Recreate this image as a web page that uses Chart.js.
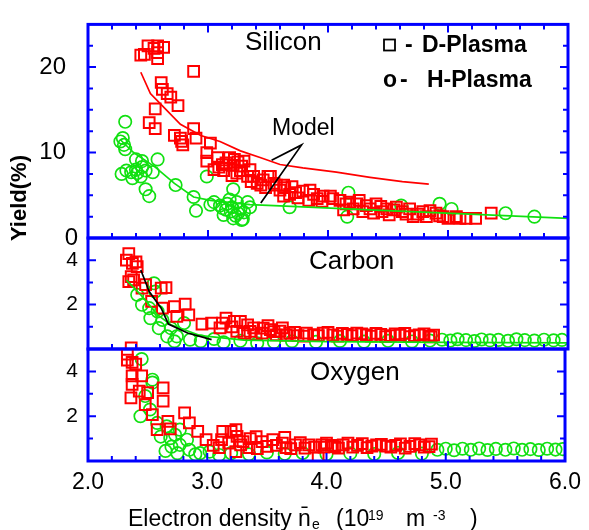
<!DOCTYPE html>
<html>
<head>
<meta charset="utf-8">
<script src="https://cdn.jsdelivr.net/npm/chart.js@4.4.1/dist/chart.umd.min.js"></script>
<style>
  body { margin: 0; background: #fff; }
  #wrap { position: relative; width: 589px; height: 530px; }
  canvas { position: absolute; left: 0; top: 0; }
</style>
</head>
<body>
<div id="wrap">
  <canvas id="si" width="589" height="530"></canvas>
  <canvas id="ca" width="589" height="530"></canvas>
  <canvas id="ox" width="589" height="530"></canvas>
</div>
<script>
// axis ticks
const xMajor = [2, 3, 4, 5, 6]
const xMinor = [2.2, 2.4, 2.6, 2.8, 3.2, 3.4, 3.6, 3.8, 4.2, 4.4, 4.6, 4.8, 5.2, 5.4, 5.6, 5.8]
const siMajor = [0, 10, 20]
const siMinor = [2.5, 5, 7.5, 12.5, 15, 17.5, 22.5]
const smallMajor = [2, 4]
const smallMinor = [1, 3]

// Silicon
const siD = [[2.44,21.4],[2.50,22.5],[2.58,22.5],[2.63,22.3],[2.58,21.7],[2.58,21.0],[2.47,21.5],[2.55,22.2],
  [2.88,19.5],[2.61,18.2],[2.62,17.4],[2.66,16.9],[2.69,16.5],[2.75,15.5],[2.56,15.1],[2.51,13.5],[2.56,12.8],
  [2.72,12.0],[2.77,11.7],[2.79,10.9],[2.78,11.3],[2.88,12.8],[2.90,11.7],[3.02,11.1],[2.99,10.0],[2.99,9.0],
  [3.08,9.4],[3.09,8.3],[3.13,7.9],[3.18,9.4],[3.21,8.5],[3.24,7.6],[3.30,9.0],[3.27,7.9],[3.33,7.2],[3.38,7.2],
  [3.15,8.8],[3.22,9.2],[3.28,8.4],[3.12,8.6],[3.25,8.9],[3.35,8.0],[3.05,8.0],[3.20,7.3],[3.36,6.6],
  [3.41,6.4],[3.46,6.8],[3.50,7.2],[3.48,5.9],[3.55,6.4],[3.63,6.2],[3.68,5.1],[3.44,6.2],[3.52,7.2],[3.57,6.2],
  [3.64,5.9],[3.63,4.9],[3.73,5.3],[3.79,5.5],[3.88,5.1],[3.91,4.6],[3.96,4.9],[4.04,4.6],[4.10,4.4],[4.13,3.3],
  [4.18,4.2],[4.24,4.0],[4.21,3.4],[4.32,3.8],[4.29,3.1],[4.40,4.0],[4.38,2.9],[4.49,3.4],[4.51,2.7],[4.57,3.6],
  [4.62,3.1],[4.68,3.4],[4.71,2.5],[4.79,3.1],[4.82,2.5],[4.90,2.9],[4.96,2.5],[5.07,2.5],[5.15,2.3],[5.23,2.3],
  [5.36,2.9],[3.60,5.6],[3.70,6.0],[3.85,5.6],[3.95,4.3],[4.02,4.9],[4.15,4.0],[4.26,4.4],[4.35,3.4],[4.45,3.1],
  [4.55,3.3],[4.65,2.8],[4.75,2.8],[4.85,3.2],[4.93,2.6],[5.00,2.3],[5.10,2.3],[4.44,3.7],[3.75,4.7],[3.84,4.4]]
const siH = [[2.31,13.6],[2.27,11.3],[2.30,10.9],[2.29,11.7],[2.31,10.4],[2.40,9.2],[2.45,9.0],[2.58,9.2],
  [2.32,7.9],[2.36,7.7],[2.41,7.6],[2.48,7.9],[2.54,7.7],[2.44,7.2],[2.37,7.0],[2.40,8.0],[2.45,8.3],[2.28,7.5],
  [2.48,5.7],[2.51,4.9],[2.73,6.2],[2.99,7.2],[2.88,4.8],[2.90,3.2],[3.05,4.2],[3.10,3.8],[3.16,4.0],[3.21,5.7],
  [3.19,3.1],[3.24,4.2],[3.27,3.4],[3.21,2.3],[3.28,2.1],[3.13,2.7],[3.33,4.2],[3.29,2.2],[3.15,3.3],[3.20,3.6],
  [3.25,2.9],[3.18,4.5],[3.30,3.0],[3.23,2.6],[3.12,3.5],[3.35,3.6],[3.02,3.9],
  [3.68,3.6],[4.17,5.3],[4.16,2.5],[4.61,3.8],[4.93,4.0],[5.03,3.4],[5.48,2.9],[5.72,2.5]]
const siModelD = [[2.44,19.4],[2.52,16.9],[2.61,15.6],[2.77,13.3],[2.94,12.0],[3.10,11.3],[3.27,10.2],
  [3.44,9.4],[3.60,8.6],[3.79,8.2],[4.07,7.7],[4.35,7.1],[4.62,6.6],[4.84,6.3]]
const siModelH = [[2.27,11.5],[2.38,10.0],[2.56,8.3],[2.72,6.4],[2.88,4.8],[3.02,4.4],[3.35,3.9],[3.60,3.75],
  [4.35,3.3],[5.18,2.8],[6.0,2.3]]
const siPointer = [[3.53,9.1],[3.78,10.9],[3.44,4.1]]

// Carbon
const caD = [[2.34,4.3],[2.32,4.0],[2.37,3.86],[2.40,3.93],[2.41,3.71],[2.36,3.26],[2.34,3.04],[2.38,3.11],
  [2.45,2.74],[2.48,2.9],[2.61,2.74],[2.65,2.77],[2.53,2.14],[2.62,1.84],[2.72,1.91],[2.81,2.02],[2.74,1.47],
  [2.84,1.54],[2.95,1.12],[3.03,1.17],[3.12,1.17],[3.15,1.39],[3.22,1.24],[3.27,1.24],[3.33,1.09],[3.10,0.95],
  [3.20,1.0],[3.24,0.79],[3.35,0.79],[3.40,0.65],[3.46,0.94],[3.52,0.87],[3.57,0.64],[3.60,0.80],[3.68,0.72],
  [3.75,0.60],[3.82,0.72],[3.88,0.65],[3.96,0.72],[4.04,0.64],[4.12,0.70],[4.20,0.60],[4.28,0.68],[4.36,0.58],
  [4.44,0.66],[4.52,0.60],[4.60,0.62],[4.68,0.56],[4.76,0.64],[4.84,0.58],[4.88,0.62],[2.36,0.05],
  [3.30,0.70],[3.45,0.72],[3.55,0.78],[3.65,0.62],[3.72,0.75],[3.80,0.58],[3.92,0.60],[4.00,0.75],[4.08,0.58],
  [4.16,0.66],[4.24,0.72],[4.32,0.64],[4.40,0.70],[4.48,0.56],[4.56,0.68],[4.64,0.70],[4.72,0.60],[4.80,0.68],
  [4.86,0.55],[3.50,1.05],[3.62,0.95],[3.38,0.95]]
const caH = [[2.55,2.96],[2.45,1.99],[2.51,1.84],[2.58,1.69],[2.52,1.39],[2.62,1.31],[2.59,0.94],[2.69,0.94],
  [2.66,0.57],[2.74,0.57],[2.72,0.35],[2.85,0.42],[2.94,0.35],[2.80,1.17],[3.05,0.45],[3.13,0.30],[3.27,0.37],
  [3.41,0.26],[2.41,2.44],[2.56,2.59],[3.55,0.30],[3.70,0.35],[3.90,0.32],[4.10,0.36],[4.30,0.33],[4.50,0.37],
  [4.70,0.34],[4.85,0.38],[4.95,0.42],[5.02,0.38],[5.08,0.44],[5.15,0.40],[5.22,0.36],[5.28,0.43],[5.35,0.39],
  [5.42,0.41],[5.50,0.37],[5.57,0.44],[5.64,0.40],[5.72,0.38],[5.80,0.42],[5.88,0.39],[5.95,0.41]]
const caModelD = [[2.44,3.56],[2.51,2.59],[2.61,1.84],[2.67,1.12],[2.83,0.72],[3.03,0.42]]
const caModelH = [[2.32,3.1],[2.44,2.44],[2.58,1.54],[2.69,1.09],[2.94,0.60],[3.3,0.40],[4.0,0.33],[5.0,0.30],[6.0,0.28]]

// Oxygen
const oxD = [[2.33,4.77],[2.33,4.50],[2.37,4.40],[2.40,4.32],[2.37,3.80],[2.45,3.80],[2.37,3.42],[2.43,3.12],
  [2.36,2.82],[2.50,3.05],[2.63,3.27],[2.48,2.52],[2.63,2.67],[2.54,2.07],[2.67,1.77],[2.81,2.15],[2.58,1.40],
  [2.69,1.43],[2.85,1.70],[2.92,1.32],[2.99,0.95],[3.13,1.32],[3.20,1.32],[3.24,1.40],[3.12,0.95],[3.30,0.87],
  [3.24,0.42],[3.41,1.09],[3.46,0.87],[3.55,0.95],[3.63,0.80],[3.74,0.72],[3.85,0.72],[3.96,0.72],[4.07,0.64],
  [3.05,0.70],[3.18,0.80],[3.35,0.60],[3.50,0.65],[3.70,0.55],[3.90,0.62],[4.00,0.80],[4.14,0.72],[4.22,0.62],
  [4.30,0.78],[4.38,0.66],[4.46,0.74],[4.54,0.62],[4.62,0.76],[4.70,0.65],[4.78,0.72],[4.86,0.64],[4.88,0.75],
  [3.93,0.15],[3.10,0.60],[3.28,0.72],[3.42,0.55],[3.58,0.70],[3.66,0.60],[3.78,0.82],[3.82,0.58],[3.98,0.62],
  [4.04,0.70],[4.10,0.58],[4.18,0.80],[4.26,0.70],[4.34,0.60],[4.42,0.72],[4.50,0.66],[4.58,0.70],[4.66,0.58],
  [4.74,0.78],[4.82,0.62],[3.25,1.10],[3.36,1.00],[3.65,1.05]]
const oxH = [[2.45,4.55],[2.54,3.50],[2.54,3.63],[2.48,2.90],[2.44,2.00],[2.52,2.30],[2.58,1.70],[2.61,1.09],
  [2.66,1.55],[2.69,1.02],[2.73,1.17],[2.77,1.40],[2.70,0.64],[2.77,0.72],[2.83,0.95],[2.85,0.50],[2.94,0.35],
  [3.02,0.42],[3.10,0.27],[2.65,0.45],[2.75,0.35],[2.90,0.30],[3.20,0.35],[3.35,0.30],[3.50,0.38],[3.65,0.32],
  [3.80,0.36],[4.00,0.30],[4.20,0.34],[4.40,0.31],[4.60,0.36],[4.80,0.33],[4.93,0.50],[5.00,0.55],[5.07,0.48],
  [5.14,0.55],[5.21,0.50],[5.28,0.56],[5.35,0.49],[5.42,0.54],[5.50,0.50],[5.57,0.56],[5.64,0.50],[5.71,0.53],
  [5.78,0.49],[5.85,0.55],[5.92,0.51],[5.98,0.53]]

const RED = '#ff0000'
const GREEN = '#11e011'
const BLUE = '#0000ff'
const FONT = "'Liberation Sans', Arial, sans-serif"

const pts = arr => arr.map(p => ({x: p[0], y: p[1]}))

function squares(arr) {
  return {data: pts(arr), pointStyle: 'rect', pointRadius: 7.6, borderColor: RED, backgroundColor: 'transparent',
    borderWidth: 2, order: 3, clip: 1}
}
function circles(arr) {
  return {data: pts(arr), pointStyle: 'circle', pointRadius: 6.2, borderColor: GREEN, backgroundColor: 'transparent',
    borderWidth: 1.7, order: 4, clip: 1}
}
function line(arr, color) {
  return {data: pts(arr), showLine: true, pointRadius: 0, borderColor: color, borderWidth: 1.7, order: 1, clip: 1}
}

// frame and inward ticks
const frame = {
  id: 'frame',
  afterDatasetsDraw(chart, args, o) {
    const {ctx, chartArea: a} = chart
    const x = chart.scales.x, y = chart.scales.y
    ctx.save()
    ctx.strokeStyle = BLUE
    ctx.lineWidth = 2
    ctx.beginPath()
    const seg = (x1, y1, x2, y2) => { ctx.moveTo(x1, y1); ctx.lineTo(x2, y2) }
    const xt = (v, len) => {
      const p = x.getPixelForValue(v)
      seg(p, a.bottom, p, a.bottom - len)
      if (o.top) seg(p, a.top, p, a.top + len)
    }
    const yt = (v, len) => {
      const p = y.getPixelForValue(v)
      seg(a.left, p, a.left + len, p)
      seg(a.right, p, a.right - len, p)
    }
    xMajor.forEach(v => xt(v, 8))
    xMinor.forEach(v => xt(v, 5))
    o.major.forEach(v => yt(v, 8))
    o.minor.forEach(v => yt(v, 5))
    ctx.stroke()
    ctx.lineWidth = 3
    ctx.strokeRect(a.left, a.top, a.right - a.left, a.bottom - a.top)
    ctx.restore()
  }
}

// free text
const texts = {
  id: 'texts',
  afterDraw(chart, args, o) {
    const ctx = chart.ctx
    ctx.save()
    ctx.fillStyle = '#000'
    ctx.textBaseline = 'alphabetic'
    o.items.forEach(t => {
      ctx.font = t.font
      ctx.save()
      ctx.translate(t.x, t.y)
      if (t.rot) ctx.rotate(t.rot)
      ctx.textAlign = t.align || 'left'
      ctx.fillText(t.text, 0, 0)
      ctx.restore()
    })
    if (o.legendBox) {
      ctx.strokeStyle = '#000'
      ctx.lineWidth = 1.8
      ctx.strokeRect(384, 39.5, 11, 11)
    }
    ctx.restore()
  }
}

function panel(id, top, bottom, yMax, major, minor, tickFont, tickLabel, datasets, items, showX, legendBox) {
  return new Chart(document.getElementById(id), {
    type: 'scatter',
    data: {datasets: datasets},
    options: {
      responsive: false,
      animation: false,
      events: [],
      layout: {padding: {left: 0, right: 21, top: top, bottom: showX ? 0 : 530 - bottom}},
      scales: {
        x: {
          type: 'linear', min: 2, max: 6, display: showX,
          grid: {display: false, drawTicks: false},
          border: {display: false},
          afterBuildTicks: s => { s.ticks = xMajor.map(v => ({value: v})) },
          afterFit: s => { s.height = showX ? 530 - bottom : 0 },
          ticks: {font: {family: FONT, size: 23}, color: '#000', padding: 8, maxRotation: 0,
            callback: v => v.toFixed(1)}
        },
        y: {
          type: 'linear', min: 0, max: yMax,
          grid: {display: false, drawTicks: false},
          border: {display: false},
          afterBuildTicks: s => { s.ticks = major.map(v => ({value: v})) },
          afterFit: s => { s.width = 88 },
          ticks: {font: {family: FONT, size: tickFont}, color: '#000', padding: 10, callback: tickLabel}
        }
      },
      plugins: {
        legend: {display: false},
        tooltip: {enabled: false},
        frame: {major: major, minor: minor, top: id === 'si'},
        texts: {items: items, legendBox: legendBox}
      }
    },
    plugins: [frame, texts]
  })
}

panel('si', 15, 238, 25, siMajor, siMinor, 24, v => v === 0 ? '0' : v + '\u2002', [
  line(siPointer, '#000'),
  line(siModelD, RED),
  line(siModelH, GREEN),
  squares(siD),
  circles(siH)
], [
  {text: 'Silicon', x: 245, y: 50, font: '26px ' + FONT},
  {text: 'Model', x: 272, y: 135, font: '23px ' + FONT},
  {text: '-', x: 405, y: 52, font: 'bold 23px ' + FONT},
  {text: 'D-Plasma', x: 422, y: 52, font: 'bold 23px ' + FONT},
  {text: 'o', x: 383, y: 87, font: 'bold 23px ' + FONT},
  {text: '-', x: 400, y: 87, font: 'bold 23px ' + FONT},
  {text: 'H-Plasma', x: 427, y: 87, font: 'bold 23px ' + FONT}
], false, true)

panel('ca', 238, 349, 5, smallMajor, smallMinor, 21, v => String(v), [
  line(caModelD, '#000'),
  line(caModelH, GREEN),
  squares(caD),
  circles(caH)
], [
  {text: 'Carbon', x: 309, y: 269, font: '26px ' + FONT}
], false, false)

panel('ox', 349, 461, 5, smallMajor, smallMinor, 21, v => String(v), [
  squares(oxD),
  circles(oxH)
], [
  {text: 'Oxygen', x: 310, y: 380, font: '26px ' + FONT},
  {text: 'Yield(%)', x: 26, y: 198, rot: -Math.PI / 2, align: 'center', font: 'bold 22px ' + FONT},
  {text: 'Electron density', x: 128, y: 526, font: '23px ' + FONT},
  {text: 'n\u0304', x: 298, y: 526, font: '23px ' + FONT},
  {text: 'e', x: 312, y: 529, font: '14px ' + FONT},
  {text: '(10', x: 336, y: 526, font: '23px ' + FONT},
  {text: '19', x: 368, y: 520, font: '14px ' + FONT},
  {text: 'm', x: 406, y: 526, font: '23px ' + FONT},
  {text: '-3', x: 433, y: 520, font: '14px ' + FONT},
  {text: ')', x: 470, y: 526, font: '23px ' + FONT}
], true, false)
</script>
</body>
</html>
